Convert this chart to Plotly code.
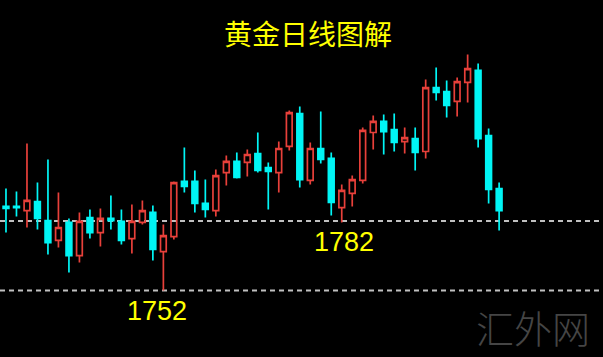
import plotly.graph_objects as go

days = list(range(48))
open_ = [1788.3, 1788.3, 1786.5, 1790.4, 1782.2, 1773.6, 1781.4, 1767.1, 1783.5, 1777.0,
         1783.1, 1781.8, 1774.4, 1781.4, 1785.7, 1768.8, 1775.3, 1799.1, 1799.1, 1789.6,
         1786.5, 1802.9, 1807.7, 1807.3, 1811.1, 1805.1, 1802.9, 1814.2, 1828.4, 1799.5,
         1813.3, 1809.0, 1787.8, 1793.9, 1799.5, 1820.2, 1825.0, 1821.5, 1816.3, 1817.6,
         1812.0, 1839.6, 1837.9, 1833.6, 1841.8, 1847.0, 1818.9, 1796.0]
high = [1796.0, 1794.7, 1815.5, 1798.6, 1808.6, 1794.3, 1783.1, 1785.7, 1787.0, 1787.4,
        1793.0, 1787.0, 1789.1, 1790.9, 1788.7, 1780.5, 1799.1, 1813.7, 1803.8, 1799.9,
        1804.2, 1810.3, 1811.6, 1812.9, 1820.2, 1807.3, 1816.3, 1829.7, 1831.4, 1815.9,
        1829.3, 1811.6, 1797.8, 1801.6, 1822.4, 1827.5, 1828.0, 1828.4, 1822.4, 1822.4,
        1843.1, 1848.3, 1842.7, 1844.0, 1853.9, 1850.0, 1821.9, 1798.6]
low = [1777.0, 1783.9, 1779.2, 1778.3, 1767.5, 1770.6, 1759.8, 1764.1, 1774.4, 1771.0,
       1778.3, 1771.9, 1768.0, 1780.5, 1765.0, 1752.0, 1774.0, 1794.3, 1785.7, 1783.5,
       1783.9, 1797.3, 1800.3, 1801.2, 1802.9, 1787.0, 1794.3, 1812.4, 1796.5, 1797.8,
       1806.8, 1784.4, 1781.4, 1788.3, 1798.2, 1812.9, 1810.7, 1812.0, 1811.1, 1803.8,
       1809.0, 1834.0, 1826.7, 1827.1, 1833.2, 1813.7, 1789.6, 1777.9]
close = [1787.4, 1787.8, 1790.9, 1783.1, 1772.7, 1779.2, 1767.1, 1781.8, 1777.0, 1783.1,
         1782.2, 1773.6, 1781.8, 1786.5, 1769.7, 1775.7, 1798.6, 1796.9, 1789.6, 1787.0,
         1801.6, 1807.7, 1800.8, 1810.7, 1803.8, 1803.4, 1813.3, 1828.8, 1799.9, 1813.3,
         1808.6, 1790.0, 1795.2, 1799.9, 1821.1, 1825.0, 1820.6, 1815.9, 1818.0, 1811.6,
         1839.6, 1837.5, 1831.9, 1842.2, 1847.8, 1817.6, 1795.6, 1786.5]

levels = [1782, 1752]
level_labels = ["1782", "1752"]
title_text = "黄金日线图解"
watermark = "汇外网"

RED = "#e8403a"
CYAN = "#00f5f5"

fig = go.Figure()
fig.add_trace(go.Candlestick(
    x=days, open=open_, high=high, low=low, close=close,
    increasing=dict(line=dict(color=RED, width=1.7), fillcolor="rgba(0,0,0,0)"),
    decreasing=dict(line=dict(color=CYAN, width=1.7), fillcolor=CYAN),
    whiskerwidth=0,
    showlegend=False,
    hoverinfo="skip",
))

for lv in levels:
    fig.add_shape(type="line", xref="paper", x0=0, x1=1, yref="y", y0=lv, y1=lv,
                  line=dict(color="#c0c0c0", width=2, dash="5px,4px"), layer="below")

# labels
fig.add_annotation(text=level_labels[0], xref="paper", yref="paper", x=344/603, y=1-242/357,
                   xanchor="center", yanchor="middle", showarrow=False,
                   font=dict(family="Liberation Sans, Arial", size=27, color="#ffff00"))
fig.add_annotation(text=level_labels[1], xref="paper", yref="paper", x=157/603, y=1-310.5/357,
                   xanchor="center", yanchor="middle", showarrow=False,
                   font=dict(family="Liberation Sans, Arial", size=27, color="#ffff00"))
fig.add_annotation(text=title_text, xref="paper", yref="paper", x=308/603, y=1-33/357,
                   xanchor="center", yanchor="middle", showarrow=False,
                   font=dict(family="Noto Sans CJK SC", size=28, color="#ffff00"))
fig.add_annotation(text=watermark, xref="paper", yref="paper", x=533/603, y=1-326/357,
                   xanchor="center", yanchor="middle", showarrow=False,
                   font=dict(family="Noto Sans CJK SC", size=38, color="#454545", weight=300))

fig.update_layout(
    width=603, height=357,
    margin=dict(l=0, r=0, t=0, b=0),
    paper_bgcolor="#000000", plot_bgcolor="#000000",
    boxgap=0.22,
    xaxis=dict(range=[-0.57, 56.9], visible=False, rangeslider=dict(visible=False),
               showgrid=False, zeroline=False, fixedrange=True),
    yaxis=dict(range=[1723.3, 1877.4], visible=False, showgrid=False, zeroline=False,
               fixedrange=True),
)

fig.write_html("out.html")
